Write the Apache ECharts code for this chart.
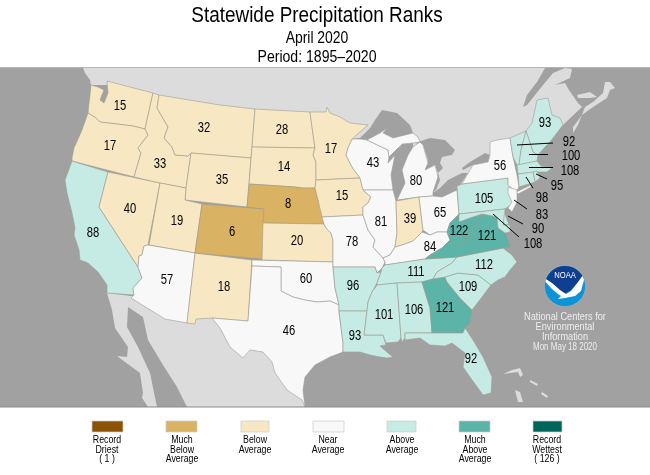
<!DOCTYPE html>
<html><head><meta charset="utf-8">
<style>html,body{margin:0;padding:0;background:#fff}#c{width:650px;height:475px}</style>
<script src="https://cdn.jsdelivr.net/npm/echarts@6/dist/echarts.min.js"></script>
</head><body><div id="c"></div>
<script>
// ---- values ----
const stateNames = ['WA','OR','CA','NV','ID','MT','WY','UT','AZ','NM','CO','ND','SD','NE','KS','OK','TX','MN','IA','MO','AR','LA','WI','IL','MI','IN','OH','KY','TN','MS','AL','GA','FL','SC','NC','VA','WV','PA','NY','ME','VT','NH','MA','RI','CT','NJ','DE','MD'];
const stateRanks = [15,17,88,40,33,32,35,19,57,18,6,28,14,8,20,60,46,17,15,78,96,93,43,81,80,39,65,84,111,101,106,121,92,109,112,121,122,105,56,93,92,100,108,95,98,83,90,108];
const legendLabels = ['Record\nDriest\n( 1 )','Much\nBelow\nAverage','Below\nAverage','Near\nAverage','Above\nAverage','Much\nAbove\nAverage','Record\nWettest\n( 126 )'];
const legendColors = ['#8c5307','#d9b263','#f7e8c3','#f8f8f8','#c5ebe4','#5cb3a7','#00665c'];
const classUpperBounds = [1,13,42,84,113,125,126];

// ---- map geometry (page pixels), y is negated on use ----
const shapes = {
WA:{cp:[120,106],p:[[[91,85],[98,87],[104,90],[100,100],[104,103],[108,93],[107,81],[130,87],[153,93],[145,129],[133,126],[117,124],[100,122],[96,118],[88,113],[89,103],[90,95]]]},
OR:{cp:[110,146],p:[[[88,113],[96,118],[100,122],[117,124],[133,126],[145,129],[148,135],[138,148],[141,153],[134,177],[72,161],[72,158],[74,148],[82,130]]]},
CA:{cp:[93,233],p:[[[72,161],[108,172],[99,207],[138,267],[142,278],[133,288],[134,295],[107,293],[107,285],[98,272],[88,263],[80,260],[79,250],[74,235],[75,228],[72,213],[67,193],[65,180]]]},
NV:{cp:[130,209],p:[[[108,172],[160,183],[148,245],[144,246],[142,255],[139,256],[138,267],[99,207]]]},
ID:{cp:[160,164],p:[[[153,93],[159,95],[157,108],[168,127],[164,138],[172,147],[175,155],[188,156],[191,153],[186,188],[160,183],[134,177],[141,153],[138,148],[148,135],[145,129]]]},
MT:{cp:[204,128],p:[[[159,95],[220,105],[255,109],[252,147],[251,158],[191,153],[188,156],[175,155],[172,147],[164,138],[168,127],[157,108]]]},
WY:{cp:[222,180],p:[[[191,153],[251,158],[249,184],[247,207],[185,200],[186,188]]]},
UT:{cp:[177,221],p:[[[160,183],[186,188],[185,200],[202,204],[195,253],[149,245]]]},
AZ:{cp:[167,280],p:[[[148,245],[195,253],[187,323],[165,319],[131,298],[134,295],[133,288],[142,278],[138,267],[139,256],[142,255],[144,246]]]},
NM:{cp:[224,287],p:[[[195,253],[252,260],[248,321],[212,318],[196,319],[195,324],[187,323]]]},
CO:{cp:[232,232],p:[[[202,204],[265,209],[262,259],[195,253]]]},
ND:{cp:[282,130],p:[[[255,109],[310,112],[312,127],[315,148],[252,147]]]},
SD:{cp:[284,167],p:[[[252,147],[315,148],[313,155],[316,162],[316,180],[315,188],[312,188],[302,188],[295,187],[249,184]]]},
NE:{cp:[288,204],p:[[[249,184],[295,187],[302,188],[315,188],[318,200],[322,212],[324,224],[263,223],[264,209],[247,207]]]},
KS:{cp:[297,241],p:[[[263,223],[324,224],[326,228],[331,233],[333,240],[333,262],[262,260]]]},
OK:{cp:[306,279],p:[[[252,260],[333,262],[333,267],[335,288],[339,305],[330,301],[317,302],[305,300],[293,297],[281,291],[281,267],[252,266]]]},
TX:{cp:[289,331],p:[[[252,266],[281,267],[281,291],[293,297],[305,300],[317,302],[330,301],[339,305],[339,312],[343,343],[343,352],[330,357],[315,365],[305,377],[303,390],[305,407],[302,400],[287,390],[275,373],[272,362],[263,352],[250,350],[243,358],[230,347],[220,328],[212,318],[248,321]]]},
MN:{cp:[331,149],p:[[[310,112],[326,112],[327,107],[330,113],[340,117],[350,123],[368,125],[352,139],[348,148],[346,155],[352,167],[360,178],[316,180],[316,162],[313,155],[315,148],[312,127]]]},
IA:{cp:[342,196],p:[[[316,180],[360,178],[363,190],[371,197],[368,203],[363,207],[363,215],[322,217],[318,200],[315,188]]]},
MO:{cp:[352,242],p:[[[322,217],[363,215],[368,230],[375,240],[373,247],[383,258],[385,262],[382,268],[377,273],[375,267],[333,267],[333,240],[331,233],[326,228],[324,224]]]},
AR:{cp:[353,286],p:[[[333,267],[375,267],[377,273],[381,272],[377,283],[372,292],[368,302],[367,311],[339,311],[339,305],[335,288]]]},
LA:{cp:[355,336],p:[[[339,311],[367,311],[364,335],[383,335],[386,345],[380,346],[388,353],[393,357],[387,358],[380,357],[370,355],[360,352],[343,352],[343,343]]]},
WI:{cp:[373,163],p:[[[352,139],[360,139],[367,140],[388,150],[389,157],[388,163],[395,155],[391,175],[393,190],[363,190],[360,178],[352,167],[346,155],[348,148]]]},
IL:{cp:[381,222],p:[[[363,190],[393,190],[396,201],[397,233],[395,247],[390,255],[383,258],[373,247],[375,240],[368,230],[363,215],[363,207],[368,203],[371,197]]]},
MI:{cp:[416,181],p:[[[397,200],[405,183],[402,170],[408,155],[413,147],[420,142],[423,145],[428,163],[425,170],[435,165],[438,177],[433,192],[433,196],[419,197]]],p2:[[[367,140],[380,133],[387,128],[383,133],[393,138],[413,133],[418,137],[420,142],[413,143],[402,144],[393,153],[389,157],[388,150]]]},
IN:{cp:[410,219],p:[[[396,201],[397,200],[419,197],[423,230],[422,232],[413,241],[405,244],[395,247],[397,233]]]},
OH:{cp:[440,213],p:[[[419,197],[433,196],[442,197],[457,190],[459,214],[450,223],[447,232],[437,232],[430,235],[423,230]]]},
KY:{cp:[430,247],p:[[[383,258],[390,255],[395,247],[405,244],[413,241],[422,232],[430,235],[437,232],[447,232],[450,240],[442,248],[430,255],[425,259],[385,265],[385,262]]]},
TN:{cp:[416,272],p:[[[385,265],[425,259],[457,257],[452,263],[437,272],[433,279],[422,282],[397,283],[377,285],[377,283],[381,272],[382,268]]]},
MS:{cp:[384,315],p:[[[377,285],[397,283],[401,338],[398,342],[386,343],[383,335],[364,335],[367,311],[368,302],[372,292]]]},
AL:{cp:[414,310],p:[[[397,283],[422,282],[430,308],[432,333],[405,333],[405,338],[402,342],[401,338]]]},
GA:{cp:[445,308],p:[[[422,282],[433,279],[445,277],[447,282],[460,298],[472,310],[470,323],[465,328],[463,333],[432,333],[430,308]]]},
FL:{cp:[471,359],p:[[[405,333],[432,333],[463,333],[465,328],[473,340],[483,357],[492,377],[491,393],[483,395],[470,377],[463,367],[465,353],[452,343],[445,346],[430,345],[420,338],[405,340]]]},
SC:{cp:[468,287],p:[[[445,277],[458,273],[478,275],[491,285],[482,297],[472,310],[460,298],[447,282]]]},
NC:{cp:[484,265],p:[[[457,257],[503,248],[512,255],[517,262],[510,270],[505,277],[498,280],[491,285],[478,275],[458,273],[445,277],[433,279],[437,272],[452,263]]]},
VA:{cp:[487,236],p:[[[482,214],[493,216],[497,218],[498,228],[505,233],[508,240],[510,247],[503,248],[457,257],[425,259],[430,255],[442,248],[450,240],[458,246],[470,235],[478,223]]]},
WV:{cp:[459,231],p:[[[459,214],[459,222],[470,218],[482,214],[478,223],[470,235],[458,246],[450,240],[447,232],[450,223]]]},
PA:{cp:[484,199],p:[[[457,186],[462,184],[508,178],[508,185],[516,192],[513,203],[505,209],[459,214]]]},
NY:{cp:[500,166],p:[[[462,184],[467,175],[473,165],[488,162],[490,155],[490,142],[497,140],[510,138],[513,157],[517,175],[519,187],[516,192],[531,185],[531,187],[518,194],[516,192],[508,185],[508,178]]]},
ME:{cp:[545,123],p:[[[537,100],[548,98],[552,115],[560,118],[563,125],[550,142],[545,147],[538,155],[533,152],[526,131],[532,123]]]},
VT:{cp:[569,142],p:[[[510,138],[526,131],[521,150],[519,165],[517,165],[513,157]]]},
NH:{cp:[571,156],p:[[[526,131],[533,152],[538,155],[537,161],[519,165],[521,150]]]},
MA:{cp:[570,171],p:[[[517,165],[537,161],[541,166],[548,167],[553,167],[547,172],[538,172],[537,171],[518,174]]]},
RI:{cp:[557,186],p:[[[533,172],[537,171],[540,178],[535,182]]]},
CT:{cp:[542,198],p:[[[518,174],[533,172],[535,182],[519,187]]]},
NJ:{cp:[542,215],p:[[[508,187],[517,190],[517,202],[512,212],[508,208],[512,202],[508,193]]]},
DE:{cp:[538,229],p:[[[502,210],[505,209],[505,214],[509,225],[503,225]]]},
MD:{cp:[533,244],p:[[[459,214],[505,209],[503,225],[510,225],[510,232],[505,233],[498,228],[497,218],[493,216],[482,214],[470,218],[459,222]]]}
};
const baseShapes = {
Ocean:[[[0,68],[650,68],[650,407],[0,407]]],
Canada:[[[83,68],[545,68],[537,82],[527,95],[523,107],[527,105],[543,85],[553,73],[565,68],[572,69],[570,78],[555,85],[565,83],[569,90],[578,103],[582,107],[565,123],[563,125],[540,135],[510,150],[490,165],[460,185],[435,195],[420,150],[380,145],[352,139],[320,130],[150,100],[107,85],[91,85],[90,80],[85,73]],
        [[573,133],[573,127],[582,115],[593,107],[607,98],[610,90],[615,88],[610,82],[605,82],[603,93],[593,102],[585,107],[578,125]],
        [[577,95],[590,92],[597,97],[590,98],[578,98]]],
Mexico:[[[107,293],[112,310],[115,328],[128,347],[127,357],[117,356],[140,373],[143,393],[142,398],[148,407],[157,407],[150,373],[138,347],[127,327],[128,307],[143,317],[148,340],[163,365],[177,387],[187,407],[305,407],[300,380],[250,320],[165,300],[131,296]]],
Superior:[[[352,139],[360,138],[370,128],[375,120],[382,110],[397,113],[410,125],[413,133],[418,137],[393,138],[383,133],[380,133],[367,140]]],
MichiganLake:[[[388,163],[395,155],[402,144],[413,143],[413,147],[408,155],[402,170],[405,183],[397,200],[393,195],[391,175]]],
Huron:[[[415,143],[430,138],[445,140],[455,150],[452,155],[442,157],[440,163],[443,168],[438,173],[435,165],[425,170],[428,160],[423,145]]],
StClair:[[[438,173],[440,180],[436,190],[433,192]]],
Erie:[[[433,193],[440,188],[448,180],[462,173],[468,173],[460,185],[433,197]]],
Ontario:[[[462,168],[470,162],[485,153],[490,155],[488,162],[473,165],[463,170]]],
Islands:[[[503,374],[512,370],[520,368],[523,375],[520,377],[518,372],[510,373]],[[515,390],[520,392],[523,402],[518,402]],[[530,380],[538,384],[537,386],[530,382]],[[542,392],[548,396],[547,398],[541,394]]]
};
const geoFeature = (name, polys) => ({type:'Feature', properties:{name},
  geometry:{type:'MultiPolygon', coordinates: polys.map(r => [r.map(q => [q[0],-q[1]])])}});
const stateGeo = {type:'FeatureCollection', features: stateNames.map(n => {
  const s = shapes[n]; return geoFeature(n, s.p.concat(s.p2 || [])); })};
const baseGeo = {type:'FeatureCollection', features: Object.keys(baseShapes).map(n => geoFeature(n, baseShapes[n]))};
echarts.registerMap('states', stateGeo);
echarts.registerMap('base', baseGeo);

// ---- callout lines for the north-east states ----
const callouts = [[[517,145],[553,143]],[[529,154],[548,154]],[[529,167],[553,167]],[[536,174],[547,179]],[[526,177],[533,188]],[[514,200],[527,209]],[[508,216],[523,224]],[[493,214],[519,237]]];

const OCEAN='#a1a1a1', LAND='#dcdcdc';
const FONT='"Liberation Sans",Arial,sans-serif';
const rankColor = r => legendColors[classUpperBounds.findIndex(u => r <= u)];
const frame = {left:0, top:0, width:650, height:475, aspectScale:1, boundingCoords:[[0,0],[650,-475]], roam:false, silent:true};

// squeezed text helper (the reference uses a narrow Helvetica)
const narrow=(text,x,y,size,sx,fill,vAlign,lh)=>({type:'text',x,y,scaleX:sx,style:{x:0,y:0,text,fill:fill||'#000',font:size+'px '+FONT,textAlign:'center',textVerticalAlign:vAlign||'middle',lineHeight:lh}});

// NOAA logo
const cx=565, cy=286, R=20;
const arc=(a0,a1,n=24)=>Array.from({length:n+1},(_,i)=>{const a=(a0+(a1-a0)*i/n)*Math.PI/180;return [cx+R*Math.cos(a),cy+R*Math.sin(a)];});
const logo=[
 {type:'circle',shape:{cx,cy,r:R+0.6},style:{fill:'#0d93d8',stroke:'#b9b0a6',lineWidth:0.6}},
 {type:'polygon',shape:{points:arc(-160,-18).concat([[578,283],[570,291],[564,294],[556,288],[550,282]])},style:{fill:'#0f3f8f'}},
 {type:'polygon',shape:{points:arc(-18,-30,6).concat([[578,282],[571,291],[566,294],[560,290],[552,283]]).concat(arc(-160,-168,4)).concat([[552,289],[558,294],[561,296],[558,299],[565,298],[575,296],[581,291]])},style:{fill:'#ffffff'}},
 narrow('NOAA',565,276,9,0.85,'#fff')
];
const ncei=[['National Centers for',317,11.5],['Environmental',327,11.5],['Information',337,11.5],['Mon May 18 2020',347,10]].map(t=>narrow(t[0],565,t[1],t[2],0.8,'#eeeeee'));

const swatchX=[92,166,241,313,387,459,533], swatchW=[31,31,28,31,29,31,29], textX=[107,182,255,328,402,475,547];
const legend=[];
legendLabels.forEach((t,i)=>{
  legend.push({type:'rect',shape:{x:swatchX[i],y:421,width:swatchW[i],height:11},style:{fill:legendColors[i],stroke:'#cccccc',lineWidth:0.7}});
  legend.push(narrow(t,textX[i],435.5,11,0.8,'#000','top',9.5));
});
const overlay=[
    {type:'line',shape:{x1:0,y1:67.5,x2:650,y2:67.5},style:{stroke:'#b5b5b5',lineWidth:1}},
    {type:'line',shape:{x1:0,y1:407,x2:650,y2:407},style:{stroke:'#8c8c8c',lineWidth:1}},
    narrow('Statewide Precipitation Ranks',317,16,22,0.86),
    narrow('April 2020',317,39,16,0.87),
    narrow('Period: 1895\u20132020',317,58,16,0.88)
  ].concat(logo,ncei,legend);
overlay.forEach((e,i)=>{e.z=100;e.zlevel=0;});

const chart=echarts.init(document.getElementById('c'),null,{renderer:'canvas'});
chart.setOption({
  animation:false,
  backgroundColor:'#ffffff',
  geo:Object.assign({map:'base',z:1,itemStyle:{areaColor:LAND,borderWidth:0},label:{show:false},
    emphasis:{disabled:true},
    regions:['Ocean','Superior','MichiganLake','Huron','StClair','Erie','Ontario'].map(name=>({name,itemStyle:{areaColor:OCEAN,borderWidth:0},emphasis:{disabled:true}}))},frame),
  series:[
    Object.assign({type:'map',map:'states',z:3,
      data:stateNames.map((name,i)=>({name,value:stateRanks[i],itemStyle:{areaColor:rankColor(stateRanks[i])}})),
      itemStyle:{borderColor:'#a09c90',borderWidth:0.6},
      label:{show:false},
      emphasis:{disabled:true},select:{disabled:true},selectedMode:false},frame),
    {type:'lines',coordinateSystem:'geo',geoIndex:0,z:4,polyline:false,silent:true,
      lineStyle:{color:'#000',width:1,opacity:1,curveness:0},
      data:callouts.map(c=>({coords:c.map(q=>[q[0],-q[1]])}))},
    {type:'custom',coordinateSystem:'geo',geoIndex:0,z:5,silent:true,clip:false,
      data:stateNames.map((n,i)=>[shapes[n].cp[0],-shapes[n].cp[1],stateRanks[i]]),
      encode:{lng:0,lat:1},
      renderItem:(params,api)=>{const pt=api.coord([api.value(0),api.value(1)]);
        return narrow(String(api.value(2)),pt[0],pt[1],14,0.8);}}
  ],
  graphic:{elements:overlay}
});
</script></body></html>
